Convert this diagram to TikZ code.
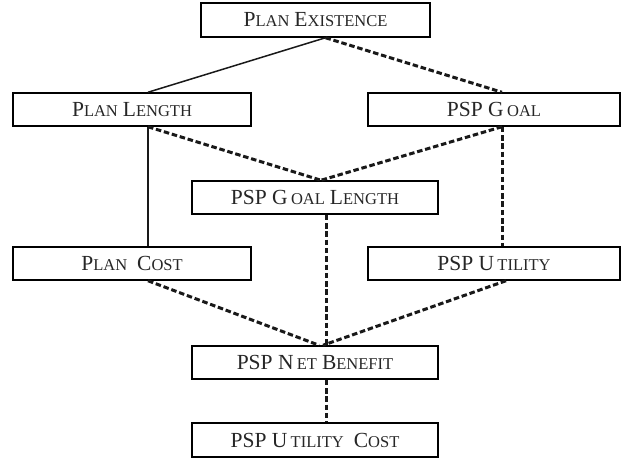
\documentclass[tikz,border=0pt]{standalone}
\usepackage{fontspec}
\setmainfont{Liberation Serif}
\usetikzlibrary{calc}
% faked small capitals: full-size capital followed by reduced capitals
\newcommand{\bigc}[1]{{\fontsize{21.5}{21.5}\selectfont #1}}
\newcommand{\smc}[1]{{\fontsize{16.5}{16.5}\selectfont #1}}
\begin{document}
\begin{tikzpicture}[x=1pt,y=-1pt,
  lattice/.style={draw=black, line width=1.5pt, rectangle, minimum height=33pt, inner sep=0pt, text=black!85, font=\fontsize{20}{20}\selectfont},
  strong/.style={draw=black!90, line width=1.5pt},
  weak/.style={draw=black!90, line width=3pt, dash pattern=on 5.5pt off 2.8pt},
]
\useasboundingbox (0,0) rectangle (625,458);
\node[lattice, minimum width=229pt, minimum height=34pt] (pe) at (315.5,20) {\bigc{P}\smc{LAN}\ \bigc{E}\smc{XISTENCE}};
\node[lattice, minimum width=238pt] (pl) at (132,109.5) {\bigc{P}\smc{LAN}\ \bigc{L}\smc{ENGTH}};
\node[lattice, minimum width=252pt] (pg) at (494,109.5) {\bigc{PSP G}\,\smc{OAL}};
\node[lattice, minimum width=246pt] (pgl) at (315,197.5) {\bigc{PSP G}\,\smc{OAL}\ \bigc{L}\smc{ENGTH}};
\node[lattice, minimum width=238pt] (pc) at (132,263.5) {\bigc{P}\smc{LAN}\ \ \bigc{C}\smc{OST}};
\node[lattice, minimum width=252pt] (pu) at (494,263.5) {\bigc{PSP U}\,\smc{TILITY}};
\node[lattice, minimum width=246pt] (pnb) at (315,362.5) {\bigc{PSP N}\,\smc{ET}\ \bigc{B}\smc{ENEFIT}};
\node[lattice, minimum width=246pt, minimum height=34pt] (puc) at (315,440) {\bigc{PSP U}\,\smc{TILITY}\ \ \bigc{C}\smc{OST}};

% connectors
\draw[strong] ([xshift=10pt]pe.south) -- ([xshift=16pt]pl.north);
\draw[weak] ([xshift=10pt]pe.south) -- ([xshift=8pt]pg.north);
\draw[strong] ([xshift=16pt]pl.south) -- ([xshift=16pt]pc.north);
\draw[weak] ([xshift=16pt]pl.south) -- ([xshift=6pt]pgl.north);
\draw[weak] ([xshift=8pt]pg.south) -- ([xshift=6pt]pgl.north);
\draw[weak] ([xshift=8.5pt]pg.south) -- ([xshift=8.5pt]pu.north);
\draw[weak] ([xshift=11.5pt]pgl.south) -- ([xshift=11.5pt]pnb.north);
\draw[weak] ([xshift=16pt]pc.south) -- ([xshift=4pt]pnb.north);
\draw[weak] ([xshift=12pt]pu.south) -- ([xshift=8pt]pnb.north);
\draw[weak] ([xshift=11.5pt]pnb.south) -- ([xshift=11.5pt]puc.north);
\end{tikzpicture}
\end{document}
